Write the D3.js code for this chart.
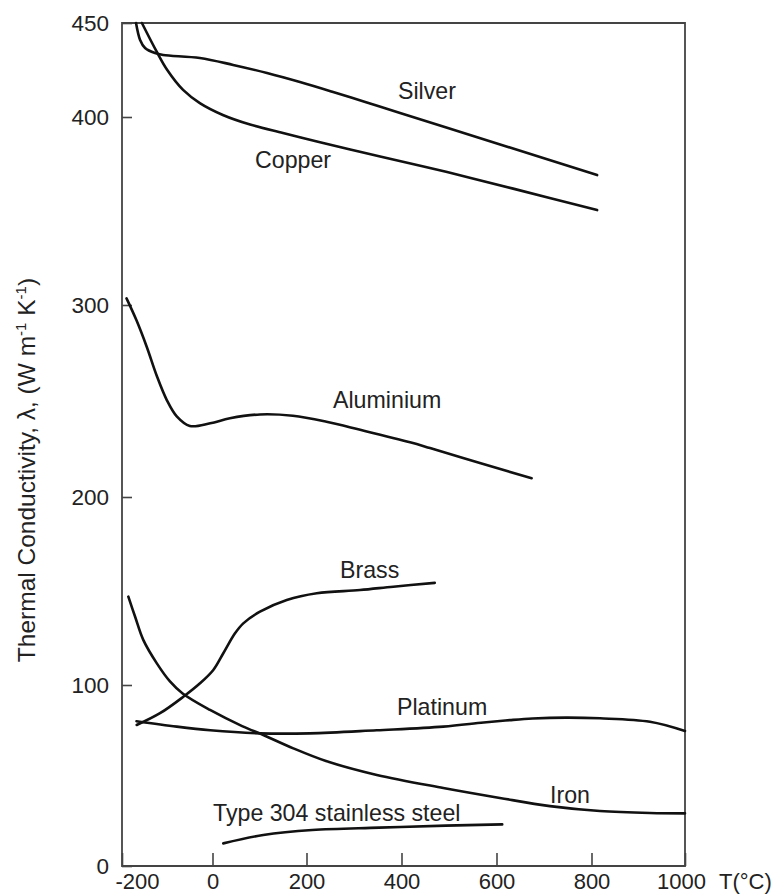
<!DOCTYPE html>
<html><head><meta charset="utf-8">
<script src="https://cdn.jsdelivr.net/npm/d3@7"></script>
<style>
body{margin:0;background:#fff}
text{font-family:"Liberation Sans",Arial,Helvetica,sans-serif;fill:#222}
</style>
</head><body>
<svg id="c" width="778" height="894"></svg>
<script>
// ---- data ----
const xTicks = [-200, 0, 200, 400, 600, 800, 1000];
const yTicks = [0, 100, 200, 300, 400, 450];

const silverT = [-169,-160,-149,-127,-109,-28,44,116,186,256,327,397,496,635,812];
const silverK = [450,441,436.7,434,433,431.4,427.7,423.4,418.6,413.3,407.7,402.1,394.3,383.2,369.1];

const copperT = [-156,-123,-100,-65,-28,22,80,150,222,292,355,496,635,812];
const copperK = [450,434.6,425,414.4,407.4,401.1,396,391.5,387,382.7,379,370.7,361.9,350.5];

const aluT = [-190,-168,-145,-123,-101,-79,-50,-5,37,101,171,242,313,418,460,565,674];
const aluK = [303.5,292,278,263,250.5,242,237,238.4,241,243,242.3,239.2,235,228.5,225.5,217.7,209.8];

const brassT = [-167.5,-116,-64.5,-27.6,1.7,23,47.9,65.5,101,158,221.7,312.6,382.7,470];
const brassK = [77.9,84.4,93.5,100.9,108,116.9,127.5,132.8,139,145.2,148.8,150.5,152.3,154.3];

const platT = [-168,-79,-5,101,207,348,488,573,628,676,746,818,925,1000];
const platK = [80,77,75,73.3,73.3,75,77,79.3,80.6,81.5,82,81.6,79.7,74.6];

const ironT = [-186,-171,-153,-123,-94,-66,-5.5,63,108,172,241,348,488,607,712.6,818,925,1000];
const ironK = [147,136.3,124,111.5,101.9,95.3,86.2,77.3,72.4,65,58,50.3,43.1,37.6,33.1,30.4,29.3,29.1];

const steelT = [23,108,212,353,493,612];
const steelK = [12.5,17.1,19.9,21.2,22.3,23];

const seriesNames = ["Silver","Copper","Aluminium","Brass","Platinum","Iron","Type 304 stainless steel"];
const labelT = [392.6, 90.4, 255.8, 270.5, 390.5, 712.6, 1.1];
const labelK = [409.6, 372.9, 246.4, 156.9, 83.4, 34.8, 24.9];

// ---- chart ----
const svg = d3.select("#c");
const x = d3.scaleLinear().domain(xTicks).range([122, 212.5, 306.5, 401.5, 496.5, 591.5, 685]);
const y = d3.scaleLinear().domain(yTicks).range([866, 685, 497, 305, 117, 23]);

const series = [
  [silverT, silverK], [copperT, copperK], [aluT, aluK], [brassT, brassK],
  [platT, platK], [ironT, ironK], [steelT, steelK]
].map(([t, k]) => t.map((v, i) => [v, k[i]]));

const line = d3.line().x(d => x(d[0])).y(d => y(d[1])).curve(d3.curveCatmullRom.alpha(0.5));

// frame
svg.append("path")
  .attr("d", `M${x(-200)},${y(450)}H${x(1000)}V${y(0)}H${x(-200)}Z`)
  .attr("fill", "none").attr("stroke", "#444").attr("stroke-width", 1.8);

// y axis
const gy = svg.append("g").attr("transform", `translate(${x(-200)},0)`)
  .call(d3.axisLeft(y).tickValues(yTicks).tickSizeInner(-10).tickSizeOuter(0).tickPadding(13).tickFormat(d3.format("d")));
gy.select(".domain").remove();
gy.selectAll(".tick line").attr("stroke", "#444").attr("stroke-width", 1.6);
gy.selectAll(".tick text").attr("font-size", 22.5).attr("fill", "#222")
  .attr("font-family", '"Liberation Sans",Arial,sans-serif');

// x axis
const gx = svg.append("g").attr("transform", `translate(0,${y(0)})`)
  .call(d3.axisBottom(x).tickValues(xTicks).tickSizeInner(-13).tickSizeOuter(0).tickPadding(7).tickFormat(d3.format("d")));
gx.select(".domain").remove();
gx.selectAll(".tick line").attr("stroke", "#444").attr("stroke-width", 1.6);
gx.selectAll(".tick text").attr("font-size", 22).attr("fill", "#222")
  .attr("font-family", '"Liberation Sans",Arial,sans-serif')
  .attr("dx", d => d === -200 ? 15 : (d === 1000 ? -4 : 0))
  .text(d => d < 0 ? "-" + Math.abs(d) : d);

svg.append("text").attr("x", 719).attr("y", y(0) + 7).attr("dy", "0.71em")
  .attr("font-size", 22).text("T(°C)");

// y title
const yt = svg.append("text").attr("transform", `translate(35,470) rotate(-90)`)
  .attr("text-anchor", "middle").attr("font-size", 24.5);
yt.append("tspan").text("Thermal Conductivity, λ, (W m");
yt.append("tspan").attr("font-size", 15).attr("dy", -9).text("-1");
yt.append("tspan").attr("dy", 9).text(" K");
yt.append("tspan").attr("font-size", 15).attr("dy", -9).text("-1");
yt.append("tspan").attr("dy", 9).text(")");

// curves
svg.append("g").selectAll("path").data(series).join("path")
  .attr("d", line).attr("fill", "none").attr("stroke", "#111")
  .attr("stroke-width", 2.6).attr("stroke-linecap", "round").attr("stroke-linejoin", "round");

// labels
svg.append("g").selectAll("text").data(seriesNames).join("text")
  .attr("x", (d, i) => x(labelT[i])).attr("y", (d, i) => y(labelK[i]))
  .attr("font-size", 23.2).text(d => d);
</script>
</body></html>
